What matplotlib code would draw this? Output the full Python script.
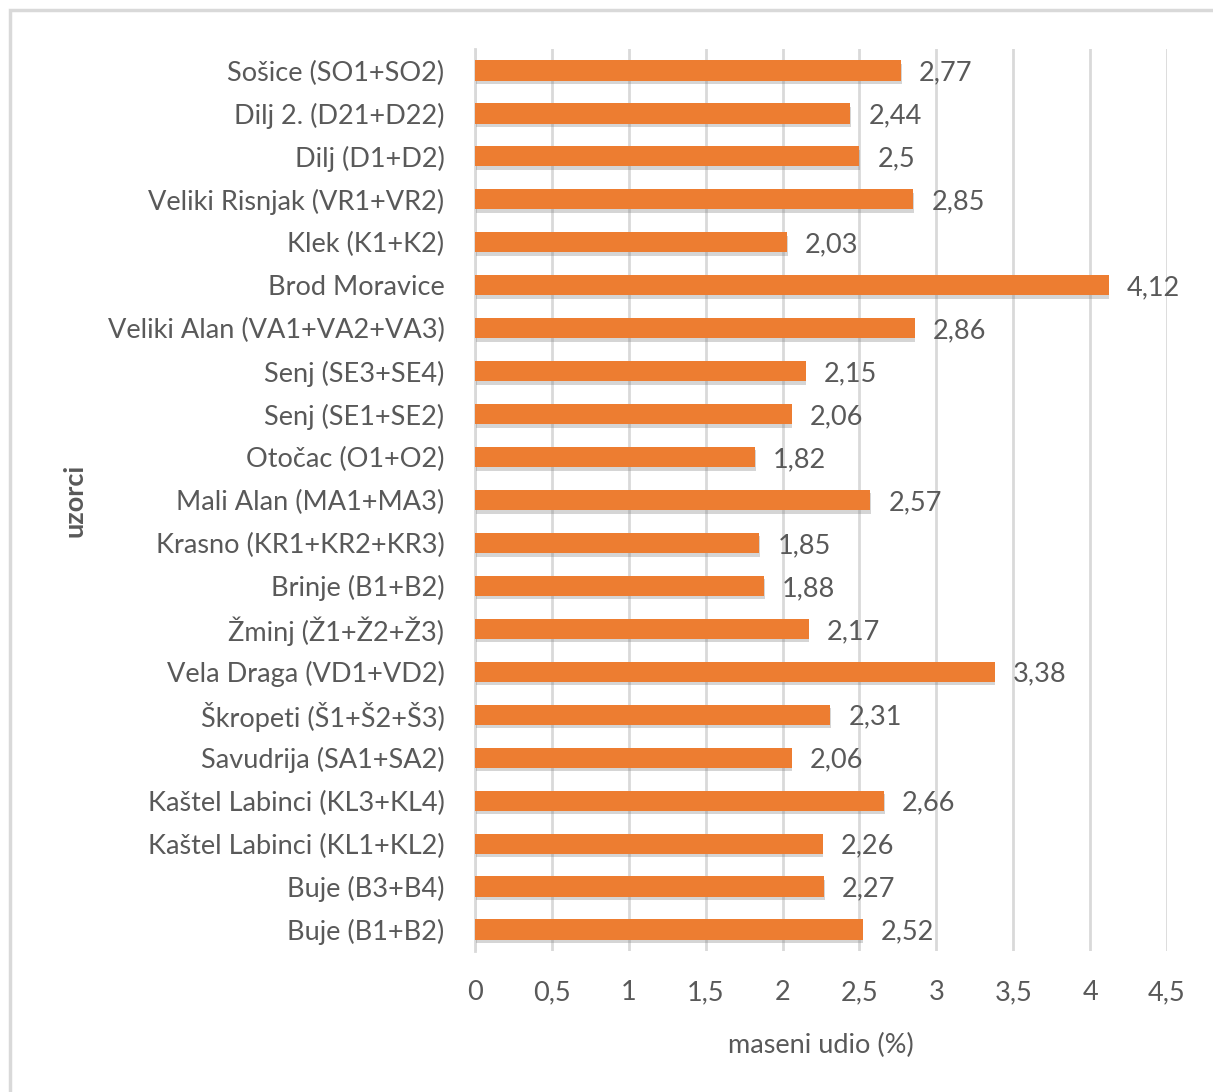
import matplotlib.pyplot as plt
import matplotlib.patheffects as pe
from matplotlib.patches import Rectangle
import numpy as np

# uzorci, top to bottom as in the chart
uzorci = ["Sošice (SO1+SO2)", "Dilj 2. (D21+D22)", "Dilj (D1+D2)",
          "Veliki Risnjak (VR1+VR2)", "Klek (K1+K2)", "Brod Moravice",
          "Veliki Alan (VA1+VA2+VA3)", "Senj (SE3+SE4)", "Senj (SE1+SE2)",
          "Otočac (O1+O2)", "Mali Alan (MA1+MA3)", "Krasno (KR1+KR2+KR3)",
          "Brinje (B1+B2)", "Žminj (Ž1+Ž2+Ž3)", "Vela Draga (VD1+VD2)",
          "Škropeti (Š1+Š2+Š3)", "Savudrija (SA1+SA2)",
          "Kaštel Labinci (KL3+KL4)", "Kaštel Labinci (KL1+KL2)",
          "Buje (B3+B4)", "Buje (B1+B2)"]
udio = [2.77, 2.44, 2.5, 2.85, 2.03, 4.12, 2.86, 2.15, 2.06, 1.82, 2.57,
        1.85, 1.88, 2.17, 3.38, 2.31, 2.06, 2.66, 2.26, 2.27, 2.52]
x_ticks = [0, 0.5, 1, 1.5, 2, 2.5, 3, 3.5, 4, 4.5]

txt = "#595959"
fs = 19.5
plt.rcParams['font.family'] = ['Lato', 'DejaVu Sans']

fig = plt.figure(figsize=(12.13, 10.92), dpi=100)
fig.patches.append(Rectangle((10 / 1213, -0.05), 1.2, 0.05 + (1092 - 10) / 1092,
                             transform=fig.transFigure, fill=False,
                             edgecolor="#D9D9D9", linewidth=2.5))
ax = fig.add_axes([475 / 1213, 1 - 951 / 1092, 692 / 1213, 902 / 1092])

y = np.arange(len(uzorci))
bars = ax.barh(y, udio, height=0.47, color="#ED7D31", zorder=3)
for b in bars:
    b.set_path_effects([pe.SimplePatchShadow(offset=(0.5, -2.5), shadow_rgbFace="#777777", alpha=0.3),
                        pe.Normal()])

for yi, v in zip(y, udio):
    ax.annotate(f"{v:g}".replace(".", ","), (v, yi), xytext=(13, 0),
                textcoords="offset points", va="center_baseline", ha="left",
                fontsize=fs, color=txt)

ax.set_xlim(0, 4.5)
ax.set_ylim(len(uzorci) - 0.5, -0.5)
ax.set_xticks(x_ticks)
ax.set_xticklabels([f"{t:g}".replace(".", ",") for t in x_ticks])
ax.set_yticks(y)
ax.set_yticklabels(uzorci)
ax.tick_params(axis="both", length=0, labelsize=fs, labelcolor=txt)
ax.tick_params(axis="y", pad=22)
ax.tick_params(axis="x", pad=21)
ax.grid(axis="x", color="#D9D9D9", linewidth=2, zorder=0)
for s in ["top", "right", "bottom"]:
    ax.spines[s].set_visible(False)
ax.spines["left"].set_color("#D9D9D9")
ax.spines["left"].set_linewidth(2)

ax.set_xlabel("maseni udio (%)", fontsize=fs, color=txt, labelpad=20)
fig.text(75 / 1213, 1 - 500 / 1092, "uzorci", rotation=90, fontsize=fs,
         fontweight="bold", color=txt, ha="center", va="center")

fig.savefig("out.png", dpi=100)
